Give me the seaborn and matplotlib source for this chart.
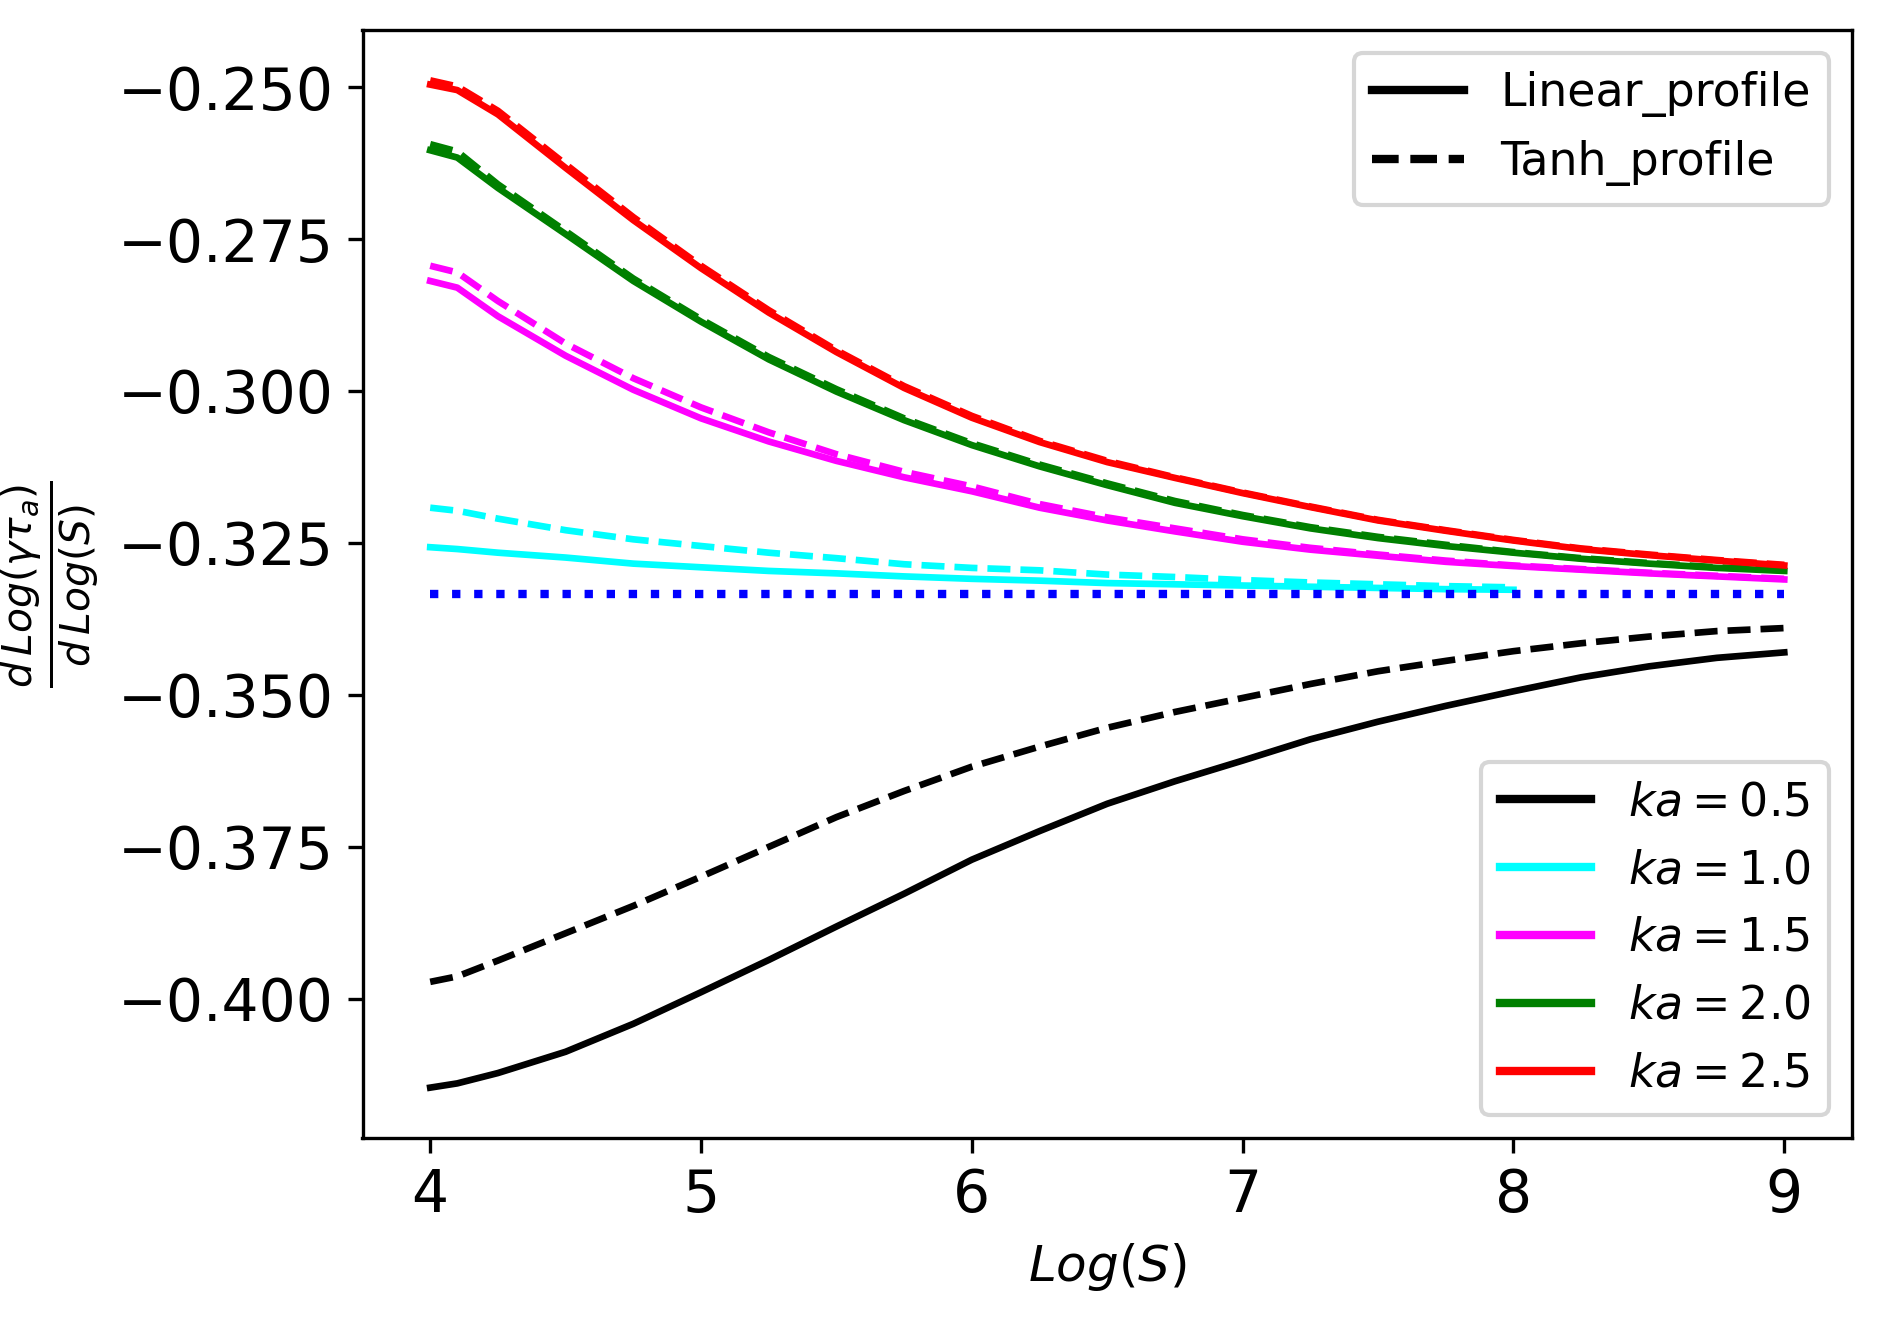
import matplotlib
matplotlib.use('Agg')
import matplotlib.pyplot as plt
import seaborn as sns
from matplotlib.lines import Line2D

# Log(S) grid
log_s = [4.0, 4.1, 4.25, 4.5, 4.75, 5.0, 5.25, 5.5, 5.75, 6.0, 6.25,
         6.5, 6.75, 7.0, 7.25, 7.5, 7.75, 8.0, 8.25, 8.5, 8.75, 9.0]
log_s_short = log_s[:18]  # ka = 1.0 runs stop at Log(S) = 8

# ka = 0.5
lin_05 = [-0.4146, -0.4139, -0.4122, -0.4087, -0.4041, -0.3989, -0.3936, -0.3881,
          -0.3827, -0.3771, -0.3724, -0.3679, -0.3642, -0.3608, -0.3573, -0.3544,
          -0.3518, -0.3494, -0.3471, -0.3453, -0.3439, -0.3430]
tanh_05 = [-0.3972, -0.3963, -0.3937, -0.3892, -0.3847, -0.3799, -0.3750, -0.3701,
           -0.3658, -0.3618, -0.3585, -0.3554, -0.3528, -0.3505, -0.3482, -0.3461,
           -0.3444, -0.3428, -0.3415, -0.3404, -0.3395, -0.3390]
# ka = 1.0
lin_10 = [-0.3257, -0.3260, -0.3266, -0.3274, -0.3284, -0.3290, -0.3296, -0.3300,
          -0.3305, -0.3309, -0.3312, -0.3316, -0.3318, -0.3320, -0.3322, -0.3324,
          -0.3326, -0.3327]
tanh_10 = [-0.3192, -0.3197, -0.3210, -0.3229, -0.3244, -0.3255, -0.3266, -0.3275,
           -0.3285, -0.3291, -0.3295, -0.3302, -0.3306, -0.3311, -0.3315, -0.3318,
           -0.3321, -0.3323]
# ka = 1.5
lin_15 = [-0.2819, -0.2830, -0.2877, -0.2942, -0.2998, -0.3045, -0.3083, -0.3115,
          -0.3142, -0.3165, -0.3192, -0.3213, -0.3231, -0.3248, -0.3261, -0.3271,
          -0.3281, -0.3288, -0.3294, -0.3300, -0.3305, -0.3310]
tanh_15 = [-0.2794, -0.2805, -0.2852, -0.2922, -0.2979, -0.3027, -0.3068, -0.3104,
           -0.3133, -0.3157, -0.3186, -0.3208, -0.3226, -0.3244, -0.3258, -0.3269,
           -0.3279, -0.3287, -0.3293, -0.3299, -0.3304, -0.3309]
# ka = 2.0
lin_20 = [-0.2604, -0.2616, -0.2666, -0.2742, -0.2819, -0.2886, -0.2948, -0.3001,
          -0.3048, -0.3089, -0.3124, -0.3155, -0.3184, -0.3206, -0.3226, -0.3242,
          -0.3255, -0.3266, -0.3276, -0.3284, -0.3291, -0.3296]
tanh_20 = [-0.2594, -0.2606, -0.2660, -0.2737, -0.2815, -0.2882, -0.2944, -0.2997,
           -0.3045, -0.3086, -0.3121, -0.3152, -0.3181, -0.3204, -0.3224, -0.3240,
           -0.3253, -0.3265, -0.3275, -0.3283, -0.3290, -0.3295]
# ka = 2.5
lin_25 = [-0.2496, -0.2505, -0.2545, -0.2633, -0.2719, -0.2798, -0.2871, -0.2936,
          -0.2995, -0.3044, -0.3084, -0.3117, -0.3143, -0.3168, -0.3191, -0.3213,
          -0.3230, -0.3246, -0.3260, -0.3270, -0.3279, -0.3287]
tanh_25 = [-0.2489, -0.2499, -0.2539, -0.2627, -0.2714, -0.2794, -0.2867, -0.2933,
           -0.2992, -0.3041, -0.3082, -0.3115, -0.3142, -0.3167, -0.3190, -0.3212,
           -0.3229, -0.3245, -0.3259, -0.3269, -0.3278, -0.3286]

ka_labels = ['0.5', '1.0', '1.5', '2.0', '2.5']
ka_colors = ['black', 'cyan', 'magenta', 'green', 'red']
asymptote = -1 / 3
asym_x = [4.0, 9.0]

series = [
    (log_s, lin_05, tanh_05),
    (log_s_short, lin_10, tanh_10),
    (log_s, lin_15, tanh_15),
    (log_s, lin_20, tanh_20),
    (log_s, lin_25, tanh_25),
]

fig = plt.figure(figsize=(1880 / 300, 1325 / 300), dpi=300)
ax = fig.add_axes([362.5 / 1880, 1 - 1138 / 1325, (1852 - 362.5) / 1880, (1138 - 30) / 1325])

for (xs, lin, tanh), c in zip(series, ka_colors):
    sns.lineplot(x=xs, y=lin, color=c, linewidth=1.6, linestyle='-', ax=ax)
    sns.lineplot(x=xs, y=tanh, color=c, linewidth=1.6, linestyle=(0, (3.45, 1.5)), ax=ax)

sns.lineplot(x=asym_x, y=[asymptote, asymptote], color='blue', linewidth=2,
             linestyle=':', ax=ax)

ax.set_xlabel('$Log(S)$', fontsize=12)
ax.set_ylabel(r'$\frac{d\,Log(\gamma\tau_a)}{d\,Log(S)}$', fontsize=14)
ax.tick_params(labelsize=14)

prof_handles = [Line2D([0], [0], color='black', lw=2, ls='-'),
                Line2D([0], [0], color='black', lw=2, ls=(0, (3.2, 1.4)))]
leg1 = ax.legend(prof_handles, ['Linear_profile', 'Tanh_profile'],
                 loc='upper right', fontsize=11)
ax.add_artist(leg1)

ka_handles = [Line2D([0], [0], color=c, lw=2) for c in ka_colors]
ax.legend(ka_handles, [f'$ka = {k}$' for k in ka_labels],
          loc='lower right', fontsize=11)

fig.savefig('out.png', dpi=300)
